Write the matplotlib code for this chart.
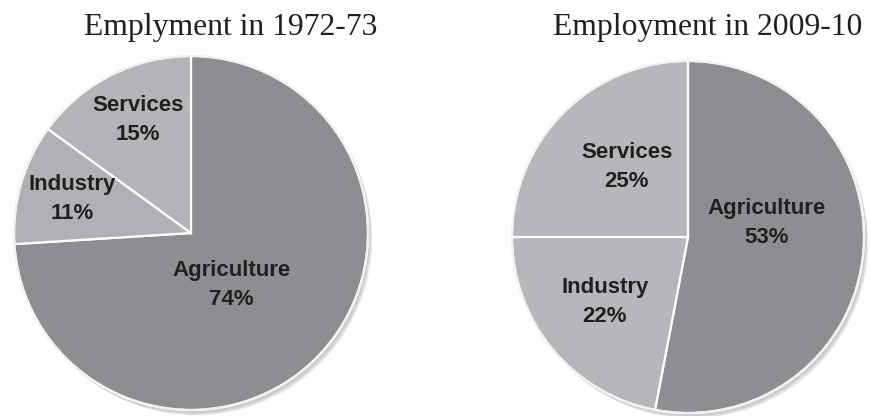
import numpy as np
import matplotlib
matplotlib.use("Agg")
import matplotlib.pyplot as plt
from matplotlib.patches import Circle

# data
categories_1972 = ["Agriculture", "Industry", "Services"]
shares_1972 = [74, 11, 15]
categories_2009 = ["Agriculture", "Industry", "Services"]
shares_2009 = [53, 22, 25]

colors_1972 = ["#8d8e91", "#b0b1b4", "#b3b4b7"]
colors_2009 = ["#8d8e91", "#b6b7ba", "#b6b7ba"]

# label placement (radius fraction, angle in degrees) per wedge
label_pos_1972 = [(0.37, -52), (0.70, 164), (0.705, 115)]
label_pos_2009 = [(0.455, 10), (0.60, -142), (0.53, 131)]

W, H = 871, 416
fig = plt.figure(figsize=(W / 100, H / 100), dpi=100)
fig.patch.set_facecolor("white")


def pie_axes(cx, cy, r):
    # pixel centre / radius -> figure fraction axes
    return fig.add_axes([(cx - r) / W, (H - cy - r) / H, 2 * r / W, 2 * r / H])


def draw_pie(ax, values, labels, colors, label_pos):
    # soft shadow
    for i, a in enumerate([0.10, 0.10, 0.12]):
        ax.add_patch(Circle((0.012 + 0.006 * i, -0.018 - 0.006 * i), 1.0,
                            facecolor="#555555", alpha=a, edgecolor="none", zorder=0))
    wedges, _ = ax.pie(values, startangle=90, counterclock=False, colors=colors,
                       radius=1.0,
                       wedgeprops=dict(edgecolor="white", linewidth=1.6))
    for w in wedges:
        w.set_zorder(2)
    for lab, v, (rr, ang) in zip(labels, values, label_pos):
        x, y = rr * np.cos(np.deg2rad(ang)), rr * np.sin(np.deg2rad(ang))
        ax.text(x, y, f"{lab}\n{v}%", ha="center", va="center",
                fontsize=16, fontweight="bold", family="Liberation Sans",
                color="#231f20", linespacing=1.5, zorder=3)
    ax.add_patch(Circle((0, 0), 1.0, facecolor="none", edgecolor="#f2f2f2",
                        linewidth=1.6, zorder=2.5))
    ax.set_xlim(-1.05, 1.05)
    ax.set_ylim(-1.05, 1.05)
    ax.set_aspect("equal")
    ax.axis("off")


ax1 = pie_axes(191, 233, 177 * 1.05)
draw_pie(ax1, shares_1972, categories_1972, colors_1972, label_pos_1972)

ax2 = pie_axes(688, 237, 176 * 1.05)
draw_pie(ax2, shares_2009, categories_2009, colors_2009, label_pos_2009)

fig.text(231 / W, 1 - 35 / H, "Emplyment in 1972-73", ha="center", va="baseline",
         family="Liberation Serif", fontsize=22.8, color="#231f20")
fig.text(708 / W, 1 - 35 / H, "Employment in 2009-10", ha="center", va="baseline",
         family="Liberation Serif", fontsize=22.8, color="#231f20")

fig.savefig("out.png", dpi=100)
